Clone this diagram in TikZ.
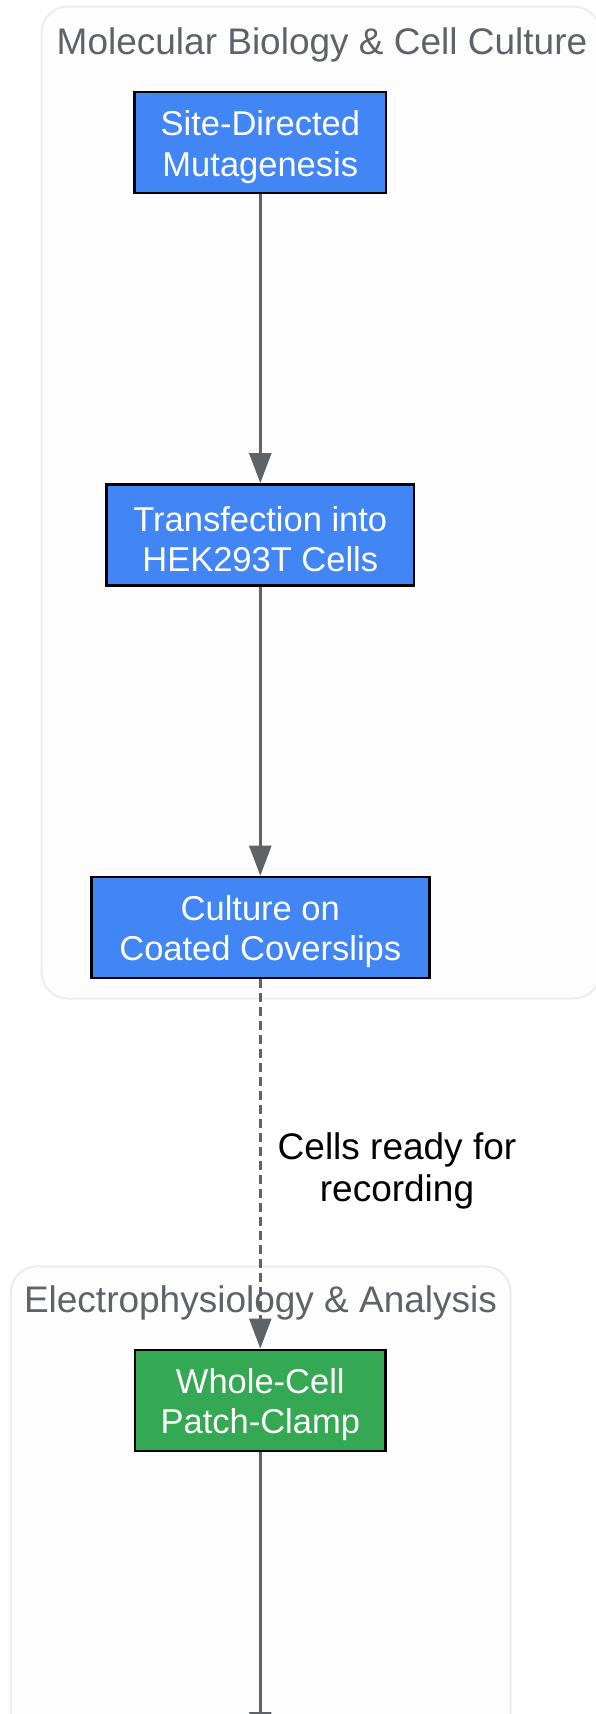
\documentclass[tikz,border=0pt]{standalone}
\usepackage{fontspec}
\setmainfont{Liberation Sans}
\usetikzlibrary{arrows.meta}
\definecolor{nodeblue}{HTML}{4285F4}
\definecolor{nodegreen}{HTML}{34A853}
\definecolor{edgegray}{HTML}{5F6368}
\definecolor{titlegray}{HTML}{5F6368}
\definecolor{clusterline}{HTML}{ECEDEE}
\definecolor{clusterfill}{HTML}{FDFDFD}
\tikzset{
  stepbox/.style={draw=black, line width=2.4pt, minimum height=101pt, inner sep=0pt},
  steptext/.style={text=white, align=center, font=\fontsize{34.5}{40.5}\selectfont, inner sep=0pt},
  clusterbox/.style={draw=clusterline, fill=clusterfill, line width=2pt, rounded corners=26pt},
  clustertitle/.style={text=titlegray, font=\fontsize{37}{42}\selectfont, inner sep=0pt},
  flow/.style={draw=edgegray, line width=2.5pt, -{Triangle[length=30pt,width=22pt]}},
  edgelabel/.style={text=black, align=center, font=\fontsize{37}{42}\selectfont, inner sep=0pt}
}
\begin{document}
\begin{tikzpicture}[x=1pt,y=-1pt]
\useasboundingbox (0,0) rectangle (596,1714);
\clip (0,0) rectangle (596,1714);
\fill[white] (0,0) rectangle (596,1714);
% clusters
\draw[clusterbox] (41.6,6.6) rectangle (600,998.5);
\node[clustertitle] (t1) at (322,45) {Molecular Biology \& Cell Culture};
\draw[clusterbox] (10.9,1266.4) rectangle (510.7,1780);
\node[clustertitle] (t2) at (260.5,1302.5) {Electrophysiology \& Analysis};
% nodes
\node[stepbox, fill=nodeblue, minimum width=251.5pt] (n1) at (260.3,142.7) {};
\node[steptext] (n1t) at ([yshift=-4.4pt]n1.center) {Site-Directed\\Mutagenesis};
\node[stepbox, fill=nodeblue, minimum width=307.5pt] (n2) at (260.3,534.8) {};
\node[steptext] (n2t) at ([yshift=-4.4pt]n2.center) {Transfection into\\HEK293T Cells};
\node[stepbox, fill=nodeblue, minimum width=338pt] (n3) at (260.3,927.4) {};
\node[steptext] (n3t) at ([yshift=-4.4pt]n3.center) {Culture on\\Coated Coverslips};
\node[stepbox, fill=nodegreen, minimum width=250.5pt] (n4) at (260.3,1400.2) {};
\node[steptext] (n4t) at ([yshift=-4.4pt]n4.center) {Whole-Cell\\Patch-Clamp};
\coordinate (out) at (260.3,1742);
% edges
\draw[flow] (n1) -- (n2);
\draw[flow] (n2) -- (n3);
\draw[flow, dash pattern=on 9pt off 5pt] (n3) -- (n4);
\node[edgelabel] (lbl) at (397,1170.5) {Cells ready for\\recording};
\draw[flow] (n4) -- (out);
\end{tikzpicture}
\end{document}
